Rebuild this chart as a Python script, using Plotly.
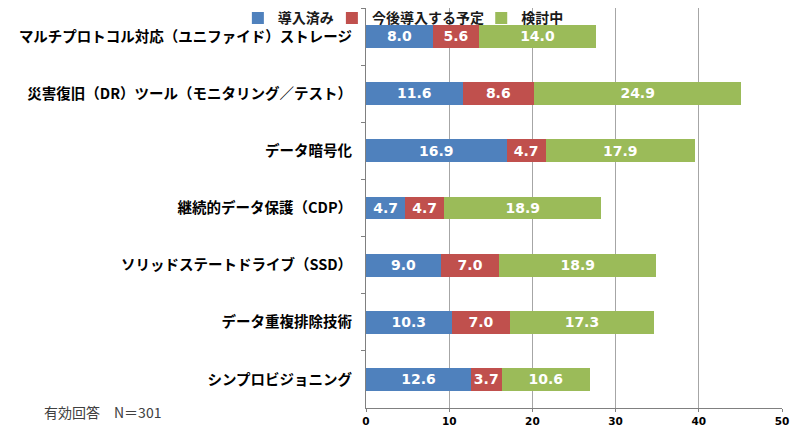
import plotly.graph_objects as go

# === DADOS ===
categorias = [
    "マルチプロトコル対応（ユニファイド）ストレージ",
    "災害復旧（DR）ツール（モニタリング／テスト）",
    "データ暗号化",
    "継続的データ保護（CDP）",
    "ソリッドステートドライブ（SSD）",
    "データ重複排除技術",
    "シンプロビジョニング",
]
導入済み = [8.0, 11.6, 16.9, 4.7, 9.0, 10.3, 12.6]
今後導入 = [5.6, 8.6, 4.7, 4.7, 7.0, 7.0, 3.7]
検討中 = [14.0, 24.9, 17.9, 18.9, 18.9, 17.3, 10.6]

series = [
    ("導入済み", 導入済み, "#4F81BD", "legend"),
    ("今後導入する予定", 今後導入, "#C0504D", "legend2"),
    ("検討中", 検討中, "#9BBB59", "legend3"),
]

jp_font = "Noto Sans CJK JP"

fig = go.Figure()

for nome, valores, cor, leg in series:
    fig.add_trace(go.Bar(
        y=categorias, x=valores, name=nome, orientation="h",
        marker=dict(color=cor, line=dict(width=0)),
        text=[f"{v:.1f}" for v in valores],
        textposition="inside", insidetextanchor="middle",
        textfont=dict(family="DejaVu Sans", size=15, color="white", weight="bold"),
        textangle=0,
        legend=leg,
    ))

# legenda: uma por série, para posicionar cada item
leg_base = dict(
    orientation="h", y=0.974, xanchor="left", yanchor="middle",
    font=dict(family=jp_font, size=14, color="#1a1a1a", weight="bold"),
    bgcolor="rgba(0,0,0,0)", itemwidth=30,
)

fig.update_layout(
    barmode="stack",
    bargap=0.6,
    width=800, height=427,
    # a página tem margem de 8px no body
    margin=dict(l=358, r=26, t=0, b=27, autoexpand=False),
    paper_bgcolor="white",
    plot_bgcolor="white",
    showlegend=True,
    uniformtext=dict(minsize=8, mode="show"),
    legend=dict(leg_base, x=-0.308),
    legend2=dict(leg_base, x=-0.082),
    legend3=dict(leg_base, x=0.277),
    font=dict(family=jp_font),
)

fig.update_xaxes(
    range=[0, 50], dtick=10,
    showgrid=True, gridcolor="#A6A6A6", gridwidth=1,
    showline=True, linecolor="#808080", linewidth=1,
    ticks="outside", ticklen=3, tickcolor="#808080",
    tickfont=dict(family="DejaVu Sans", size=10.5, color="black", weight="bold"),
    zeroline=False, automargin=False,
)
fig.update_yaxes(
    autorange="reversed",
    showline=True, linecolor="#808080", linewidth=1,
    ticks="outside", ticklen=4, tickcolor="#808080",
    tickson="boundaries",
    ticklabelstandoff=10,
    tickfont=dict(family=jp_font, size=14.5, color="black", weight="bold"),
    automargin=False,
)

fig.add_annotation(
    text="有効回答　N＝301", xref="paper", yref="paper",
    x=-0.779, y=-0.01, xanchor="left", yanchor="middle", showarrow=False,
    font=dict(family=jp_font, size=14, color="#404040"),
)

fig.write_html("out.html")
